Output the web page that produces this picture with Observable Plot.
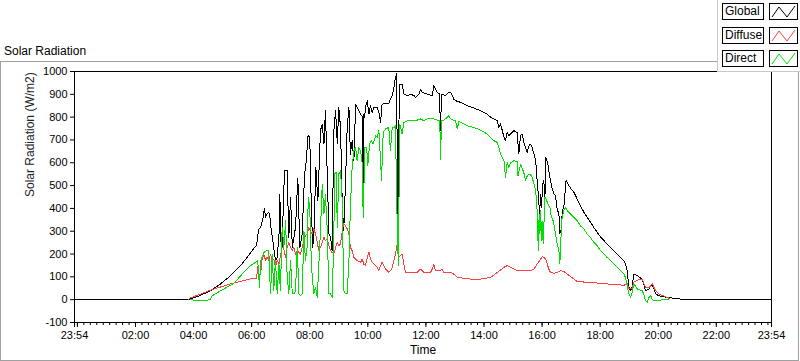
<!DOCTYPE html>
<html>
<head>
<meta charset="utf-8">
<script src="https://cdn.jsdelivr.net/npm/d3@7"></script>
<script src="https://cdn.jsdelivr.net/npm/@observablehq/plot@0.6"></script>
<style>
  html, body { margin: 0; padding: 0; background: #fff; }
  #wrap { position: relative; width: 800px; height: 361px; overflow: hidden; font-family: "Liberation Sans", Arial, sans-serif; color: #000; }
  #title { position: absolute; left: 4px; top: 45px; font-size: 12px; line-height: 12px; }
  #panel { position: absolute; left: 0; top: 61px; width: 799px; height: 300px; box-sizing: border-box; border: 1px solid #a0a0a0; }
  #chart { position: absolute; left: 0; top: 61px; }
  #legend { position: absolute; left: 717px; top: 0; width: 83px; height: 72px; box-sizing: border-box; background: #fff; border-left: 1px solid #c8c8c8; border-bottom: 1px solid #c8c8c8; }
  .lrow { position: absolute; left: 4px; height: 17px; }
  .lname { position: absolute; left: 0; top: 0; width: 42px; height: 17px; box-sizing: border-box; border: 1px solid #000; font-size: 12px; line-height: 15px; padding-left: 2px; }
  .lsw { position: absolute; left: 47px; top: 0; width: 29px; height: 17px; box-sizing: border-box; border: 1px solid #000; }
  .series path { shape-rendering: crispEdges; }
</style>
</head>
<body>
<div id="wrap">
  <div id="title">Solar Radiation</div>
  <div id="panel"></div>
  <div id="chart"></div>
  <div id="legend"></div>
</div>
<script>
// ---- data (time in decimal hours of day, value in W/m2) ----
const seriesNames = ["Global", "Diffuse", "Direct"];
const seriesColors = ["#000000", "#ff4040", "#00e000"];

const globalData = [[-0.1,0],[3.8,0],[3.9,4],[4.2,17],[4.58,39],[4.93,69],[5.27,105],[5.62,149],[5.96,205],[6.17,240],[6.21,280],[6.25,310],[6.31,317],[6.38,350],[6.44,400],[6.48,361],[6.53,375],[6.59,383],[6.63,361],[6.67,310],[6.76,229],[6.82,171],[6.88,185],[6.95,300],[6.97,463],[7.0,300],[7.03,171],[7.09,405],[7.13,565],[7.2,568],[7.22,565],[7.28,273],[7.34,448],[7.4,229],[7.51,317],[7.59,533],[7.66,229],[7.74,288],[7.82,543],[7.88,609],[7.94,719],[8.0,711],[8.05,434],[8.1,229],[8.14,273],[8.21,580],[8.28,434],[8.37,741],[8.43,770],[8.49,682],[8.54,828],[8.6,565],[8.66,288],[8.72,273],[8.77,215],[8.83,741],[8.89,828],[8.95,682],[9.0,843],[9.06,755],[9.12,419],[9.17,302],[9.23,507],[9.29,755],[9.35,843],[9.4,638],[9.46,697],[9.52,609],[9.58,857],[9.69,828],[9.75,814],[9.82,800],[9.84,360],[9.86,814],[9.89,799],[9.92,843],[9.98,872],[10.04,814],[10.09,850],[10.15,821],[10.21,843],[10.32,843],[10.38,821],[10.44,777],[10.49,857],[10.61,860],[10.72,860],[10.78,879],[10.84,895],[10.9,930],[10.95,974],[10.99,989],[11.03,353],[11.09,945],[11.18,945],[11.24,901],[11.36,894],[11.47,901],[11.59,894],[11.64,887],[11.76,901],[11.82,923],[11.87,909],[12.05,901],[12.22,894],[12.27,938],[12.39,909],[12.47,901],[12.5,741],[12.54,901],[12.68,894],[12.79,909],[12.85,909],[12.91,894],[12.96,879],[13.02,872],[13.19,865],[13.42,850],[13.65,840],[13.88,828],[14.11,814],[14.23,799],[14.34,792],[14.46,784],[14.51,755],[14.57,770],[14.63,741],[14.69,711],[14.74,697],[14.8,733],[14.86,719],[14.97,733],[15.03,741],[15.14,733],[15.2,640],[15.26,719],[15.32,726],[15.37,689],[15.43,667],[15.49,646],[15.55,675],[15.6,682],[15.66,667],[15.72,638],[15.78,609],[15.83,521],[15.89,434],[15.91,361],[15.95,463],[15.98,405],[16.02,507],[16.06,521],[16.1,448],[16.12,624],[16.15,616],[16.2,594],[16.23,565],[16.29,521],[16.35,485],[16.41,463],[16.46,456],[16.52,397],[16.58,375],[16.61,288],[16.66,310],[16.69,375],[16.73,405],[16.77,419],[16.81,514],[16.84,521],[16.89,507],[16.98,489],[17.1,470],[17.21,441],[17.32,412],[17.44,383],[17.55,361],[17.67,339],[17.78,317],[17.9,295],[18.01,276],[18.13,259],[18.24,244],[18.36,229],[18.47,215],[18.59,200],[18.7,185],[18.82,171],[18.87,156],[18.93,127],[18.99,54],[19.05,39],[19.1,54],[19.16,112],[19.28,105],[19.45,90],[19.5,69],[19.56,39],[19.68,47],[19.79,69],[19.85,47],[19.91,25],[20.02,17],[20.31,10],[20.65,4],[21.0,0],[23.9,0]];

const diffuseData = [[3.83,0],[3.89,8],[4.2,22],[4.58,42],[5.27,69],[5.96,91],[6.17,92],[6.21,145],[6.25,112],[6.31,112],[6.36,178],[6.42,200],[6.48,171],[6.53,185],[6.59,171],[6.65,200],[6.71,171],[6.76,178],[6.82,142],[6.88,171],[6.94,156],[6.99,193],[7.05,229],[7.11,222],[7.17,185],[7.22,229],[7.28,251],[7.34,229],[7.4,215],[7.45,229],[7.51,200],[7.57,215],[7.63,207],[7.68,200],[7.74,229],[7.8,259],[7.85,280],[7.91,288],[7.97,317],[8.03,302],[8.08,288],[8.14,310],[8.2,288],[8.26,251],[8.31,215],[8.37,229],[8.43,251],[8.49,273],[8.54,259],[8.6,266],[8.66,237],[8.72,215],[8.77,207],[8.83,200],[8.89,229],[8.95,251],[9.0,237],[9.06,244],[9.12,302],[9.17,332],[9.23,324],[9.29,310],[9.35,288],[9.4,229],[9.46,215],[9.52,185],[9.58,178],[9.63,171],[9.75,164],[9.81,178],[9.86,156],[9.92,149],[9.98,185],[10.04,207],[10.09,178],[10.15,164],[10.21,156],[10.27,149],[10.32,142],[10.38,127],[10.44,149],[10.49,164],[10.55,149],[10.61,135],[10.67,127],[10.72,120],[10.78,127],[10.84,142],[10.9,171],[10.95,200],[11.01,244],[11.07,186],[11.18,200],[11.24,156],[11.3,120],[11.47,120],[11.7,120],[11.82,134],[11.93,120],[12.16,120],[12.22,134],[12.27,156],[12.33,127],[12.5,127],[12.56,134],[12.62,120],[12.85,120],[12.96,112],[13.08,98],[13.54,90],[13.88,90],[14.11,95],[14.23,98],[14.46,120],[14.69,142],[14.8,149],[14.91,142],[15.03,134],[15.14,127],[15.37,127],[15.6,127],[15.72,134],[15.83,156],[15.95,178],[16.0,188],[16.06,185],[16.12,178],[16.18,156],[16.23,134],[16.29,120],[16.41,115],[16.52,120],[16.64,127],[16.75,124],[16.87,112],[16.98,101],[17.1,90],[17.21,80],[17.55,76],[17.9,73],[18.24,69],[18.59,66],[18.82,63],[18.93,71],[18.99,47],[19.1,47],[19.16,76],[19.28,86],[19.45,90],[19.56,54],[19.68,54],[19.74,61],[19.79,71],[19.91,39],[20.02,25],[20.31,10],[20.4,4]];

const directData = [[3.89,0],[4.0,-2],[4.4,-3],[4.58,0],[4.64,17],[5.04,47],[5.39,72],[5.73,120],[5.96,149],[6.21,171],[6.27,54],[6.31,171],[6.42,207],[6.56,218],[6.59,200],[6.65,25],[6.71,200],[6.76,39],[6.82,171],[6.88,25],[6.94,156],[6.99,39],[7.05,317],[7.11,229],[7.17,346],[7.22,113],[7.28,25],[7.34,171],[7.4,25],[7.45,25],[7.51,39],[7.57,229],[7.63,25],[7.68,18],[7.74,25],[7.8,302],[7.85,171],[7.91,229],[7.95,448],[8.0,405],[8.06,142],[8.14,25],[8.2,54],[8.26,10],[8.37,302],[8.43,507],[8.49,375],[8.54,463],[8.6,317],[8.66,25],[8.72,25],[8.77,10],[8.83,251],[8.85,551],[8.91,558],[8.95,317],[9.0,551],[9.06,565],[9.12,434],[9.17,39],[9.23,25],[9.29,25],[9.35,171],[9.4,405],[9.46,580],[9.52,653],[9.58,667],[9.63,609],[9.69,667],[9.75,653],[9.81,594],[9.84,361],[9.9,667],[9.96,667],[10.0,587],[10.06,682],[10.12,697],[10.18,682],[10.27,719],[10.32,711],[10.38,741],[10.44,609],[10.47,521],[10.53,733],[10.61,748],[10.72,755],[10.78,653],[10.84,755],[10.9,755],[10.95,762],[11.01,346],[11.05,149],[11.1,770],[11.18,726],[11.24,777],[11.36,784],[11.59,784],[11.7,787],[11.82,792],[11.93,784],[12.05,792],[12.27,792],[12.48,784],[12.5,616],[12.54,784],[12.62,787],[12.73,799],[12.79,806],[12.85,792],[13.02,784],[13.08,748],[13.14,784],[13.19,777],[13.31,770],[13.42,762],[13.65,755],[13.88,743],[14.11,726],[14.23,711],[14.34,697],[14.46,689],[14.51,668],[14.57,638],[14.63,624],[14.69,609],[14.74,536],[14.8,602],[14.86,580],[14.91,600],[15.03,609],[15.14,605],[15.17,543],[15.2,560],[15.26,594],[15.32,573],[15.37,558],[15.43,521],[15.49,543],[15.55,551],[15.6,548],[15.66,536],[15.72,507],[15.78,478],[15.83,390],[15.87,215],[15.9,375],[15.92,288],[15.95,390],[15.97,259],[16.0,346],[16.04,244],[16.06,317],[16.1,448],[16.14,441],[16.2,419],[16.27,405],[16.31,368],[16.38,346],[16.43,317],[16.46,288],[16.52,244],[16.58,215],[16.61,156],[16.64,229],[16.67,346],[16.72,375],[16.75,390],[16.81,405],[16.87,390],[16.98,375],[17.1,361],[17.21,346],[17.32,324],[17.44,310],[17.55,288],[17.67,273],[17.78,251],[17.9,237],[18.01,215],[18.13,200],[18.24,185],[18.36,171],[18.47,156],[18.59,142],[18.7,127],[18.82,112],[18.87,98],[18.93,61],[18.99,25],[19.05,10],[19.1,32],[19.16,69],[19.28,47],[19.45,39],[19.5,25],[19.56,-4],[19.62,-12],[19.68,10],[19.74,17],[19.79,3],[19.85,-4],[19.96,-4],[20.31,3],[20.36,0]];

// axis ticks
const yTicks = [-100, 0, 100, 200, 300, 400, 500, 600, 700, 800, 900, 1000];
const xMajorTicks = [-0.1, 0, 2, 4, 6, 8, 10, 12, 14, 16, 18, 20, 22, 23.9];
const xMajorLabels = ["23:54", "", "02:00", "04:00", "06:00", "08:00", "10:00", "12:00", "14:00", "16:00", "18:00", "20:00", "22:00", "23:54"];
const xMinorTicks = d3.range(0, 23.9, 2 / 9);

const toRows = (arr, name) => arr.map(([t, v]) => ({t, v, name}));
const rows = [
  ...toRows(globalData, "Global"),
  ...toRows(diffuseData, "Diffuse"),
  ...toRows(directData, "Direct")
];

const labelFor = t => {
  const i = xMajorTicks.findIndex(k => Math.abs(k - t) < 1e-6);
  return i >= 0 ? xMajorLabels[i] : "";
};

const chart = Plot.plot({
  width: 800,
  height: 300,
  marginLeft: 74,
  marginRight: 29,
  marginTop: 10,
  marginBottom: 39,
  style: {fontFamily: "'Liberation Sans', Arial, sans-serif", fontSize: "11px", color: "#000", background: "transparent"},
  x: {domain: [-0.1, 23.9], axis: null},
  y: {domain: [-100, 1000], axis: null},
  marks: [
    Plot.frame({stroke: "#000"}),
    Plot.axisY({ticks: yTicks, tickSize: 4, tickPadding: 3, tickFormat: d => String(d), label: null}),
    Plot.axisX({ticks: xMinorTicks, tickSize: 3, tickFormat: () => "", label: null}),
    Plot.axisX({ticks: xMajorTicks, tickSize: 5, tickPadding: 4, tickFormat: labelFor, label: null}),
    Plot.text(["Solar Radiation (W/m2)"], {frameAnchor: "left", dx: -44, rotate: -90, text: d => d, fontSize: 12, fill: "#222"}),
    Plot.text(["Time"], {frameAnchor: "bottom", dy: 31, text: d => d, fontSize: 12, fill: "#000"}),
    Plot.line(rows.filter(d => d.name === "Global"), {x: "t", y: "v", stroke: seriesColors[0], strokeWidth: 1, className: "series"}),
    Plot.line(rows.filter(d => d.name === "Diffuse"), {x: "t", y: "v", stroke: seriesColors[1], strokeWidth: 1, className: "series"}),
    Plot.line(rows.filter(d => d.name === "Direct"), {x: "t", y: "v", stroke: seriesColors[2], strokeWidth: 1, className: "series"})
  ]
});
document.getElementById("chart").appendChild(chart);

// legend
const legend = document.getElementById("legend");
seriesNames.forEach((name, i) => {
  const row = document.createElement("div");
  row.className = "lrow";
  row.style.top = [3, 27, 50][i] + "px";
  row.innerHTML = `<div class="lname">${name}</div>` +
    `<div class="lsw"><svg width="27" height="15" style="position:absolute;left:0;top:0"><polyline points="2,13 9,3 17,13 25,2" fill="none" stroke="${seriesColors[i]}" stroke-width="1"/></svg></div>`;
  legend.appendChild(row);
});
</script>
</body>
</html>
